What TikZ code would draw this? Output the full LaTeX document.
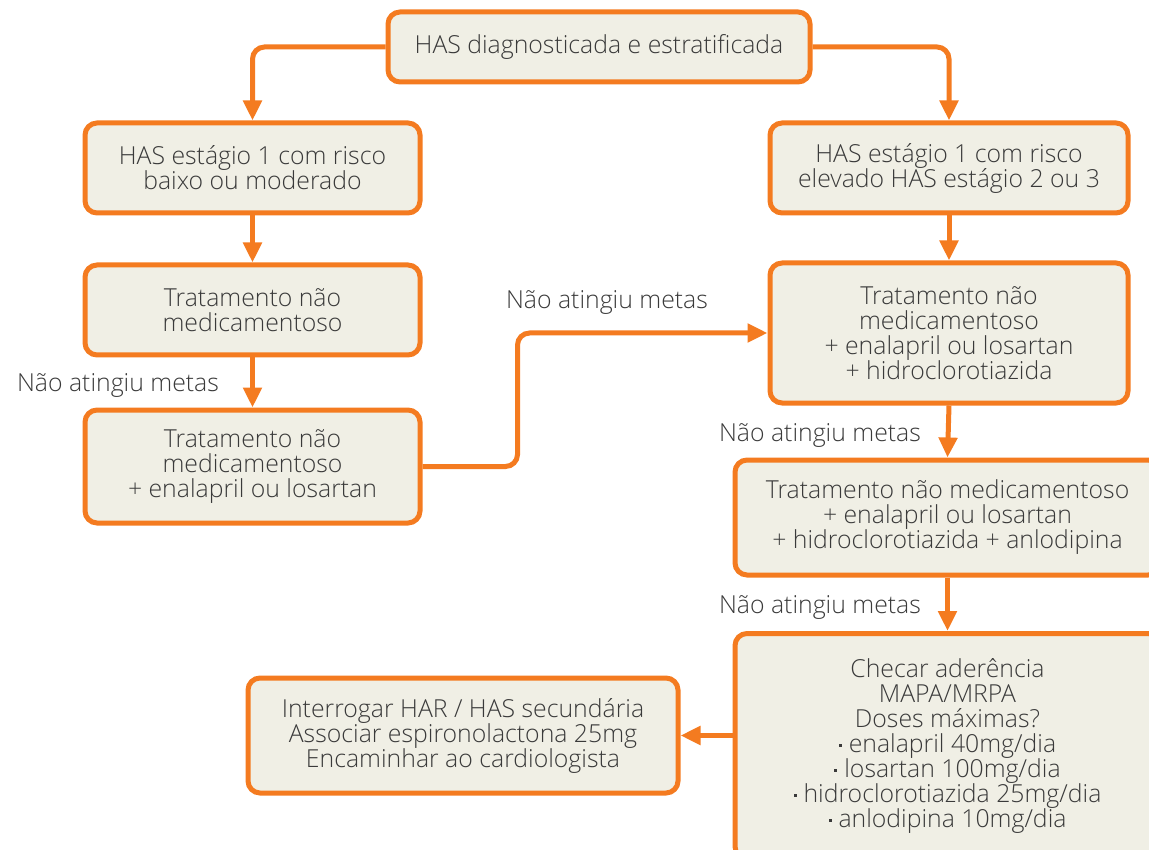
\documentclass[tikz,border=0pt]{standalone}
\usepackage{fontspec}
\setmainfont{Open Sans Light}
\usetikzlibrary{arrows.meta}
\definecolor{orng}{HTML}{F47B20}
\definecolor{boxfill}{HTML}{F0EFE5}
\definecolor{txt}{HTML}{3A3A3A}
\newcommand{\bdot}{\raisebox{6pt}{\rule{3pt}{3pt}}\hspace{7pt}}
\begin{document}
\begin{tikzpicture}[x=1pt,y=-1pt,
  box/.style={draw=orng,fill=boxfill,line width=5pt,rounded corners=12pt,
    align=center,text=txt,font=\fontsize{24.8}{25}\selectfont,inner sep=0pt},
  arr/.style={draw=orng,line width=5pt,rounded corners=12pt,
    -{Triangle[length=20pt,width=18pt]}},
  lbl/.style={text=txt,font=\fontsize{24.8}{25}\selectfont,inner sep=0pt}]
\useasboundingbox (0,0) rectangle (1149,850);
\node[box,minimum width=422pt,minimum height=70pt] (top) at (599,47) {\raisebox{-2pt}{HAS diagnosticada e estratificada}};
\node[box,minimum width=335pt,minimum height=90pt] (l1) at (252.5,168) {HAS estágio 1 com risco\\baixo ou moderado};
\node[box,minimum width=358pt,minimum height=90pt] (r1) at (949,168) {HAS estágio 1 com risco\\elevado HAS estágio 2 ou 3};
\node[box,minimum width=335pt,minimum height=90pt] (l2) at (252.5,310) {Tratamento não\\medicamentoso};
\node[box,minimum width=358pt,minimum height=140pt] (r2) at (949,333) {Tratamento não\\medicamentoso\\+ enalapril ou losartan\\+ hidroclorotiazida};
\node[box,minimum width=335pt,minimum height=113pt] (l3) at (252.5,466.5) {Tratamento não\\medicamentoso\\+ enalapril ou losartan};
\node[box,minimum width=425pt,minimum height=115pt] (r3) at (947.5,517.5) {Tratamento não medicamentoso\\+ enalapril ou losartan\\+ hidroclorotiazida + anlodipina};
\node[box,minimum width=425pt,minimum height=225pt] (r4) at (947.5,746) {Checar aderência\\MAPA/MRPA\\Doses máximas?\\\bdot enalapril 40mg/dia\\\bdot losartan 100mg/dia\\\bdot hidroclorotiazida 25mg/dia\\\bdot anlodipina 10mg/dia};
\node[box,minimum width=430pt,minimum height=115pt] (l4) at (463,735.5) {Interrogar HAR / HAS secundária\\Associar espironolactona 25mg\\Encaminhar ao cardiologista};
\node[lbl] (n1) at (118,385) {Não atingiu metas};
\node[lbl] (n2) at (607,302) {Não atingiu metas};
\node[lbl] (n3) at (820,435) {Não atingiu metas};
\node[lbl] (n4) at (820,607) {Não atingiu metas};
\draw[arr] (top.west) -| (l1.north);
\draw[arr] (top.east) -| (r1.north);
\draw[arr] (l1.south) -- (l2.north);
\draw[arr] (l2.south) -- (l3.north);
\draw[arr] (l3.east) -- ++(95,0) |- (r2.west);
\draw[arr] (r1.south) -- (r2.north);
\draw[arr] (r2.south) -- (r3.north);
\draw[arr] (r3.south) -- (r4.north);
\draw[arr] (r4.west |- l4.east) -- (l4.east);
\end{tikzpicture}
\end{document}
